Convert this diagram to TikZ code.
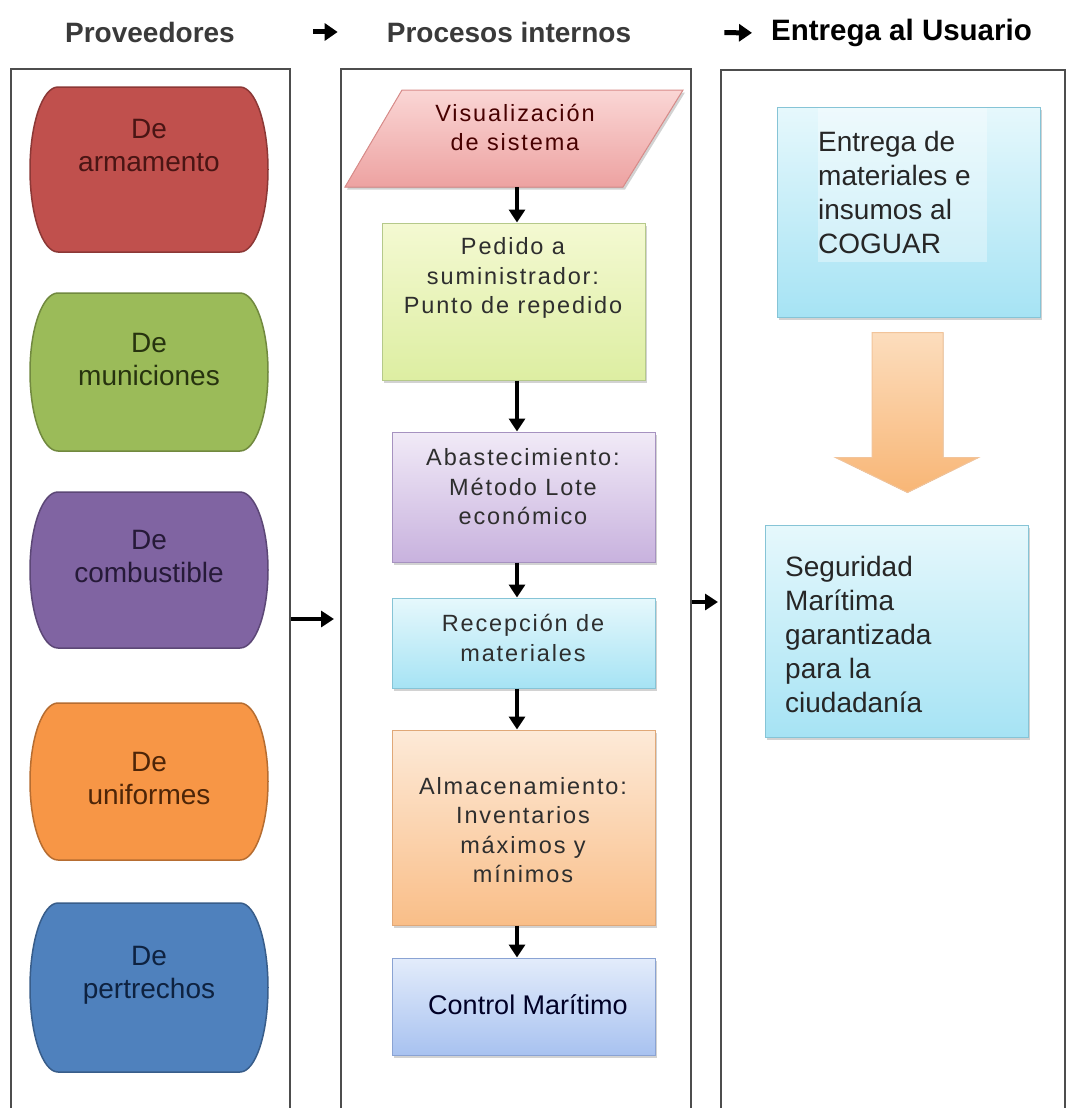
\documentclass[tikz,border=0pt]{standalone}
\usepackage{fontspec}
\setmainfont{Liberation Sans}
\newfontfamily\spacedfont[LetterSpace=8]{Liberation Sans}
\usetikzlibrary{shadows,calc,arrows.meta}

\definecolor{panelgray}{HTML}{4D4D4D}
\definecolor{hdrgray}{HTML}{3A3A3A}
\definecolor{midtxt}{HTML}{2E2E2E}
% supplier shapes
\definecolor{redF}{HTML}{C0504D}\definecolor{redD}{HTML}{8C3836}\definecolor{redT}{HTML}{4A1514}
\definecolor{grnF}{HTML}{9BBB59}\definecolor{grnD}{HTML}{71893F}\definecolor{grnT}{HTML}{27330F}
\definecolor{purF}{HTML}{8064A2}\definecolor{purD}{HTML}{5C4776}\definecolor{purT}{HTML}{261A38}
\definecolor{orgF}{HTML}{F79646}\definecolor{orgD}{HTML}{B66D31}\definecolor{orgT}{HTML}{4D2508}
\definecolor{bluF}{HTML}{4F81BD}\definecolor{bluD}{HTML}{385D8A}\definecolor{bluT}{HTML}{0E2240}
% process boxes
\definecolor{pinkA}{HTML}{FAD6D5}\definecolor{pinkB}{HTML}{EDA2A1}\definecolor{pinkD}{HTML}{D98C8A}
\definecolor{limeA}{HTML}{F4F9D2}\definecolor{limeB}{HTML}{DDEEA2}\definecolor{limeD}{HTML}{B5C98A}
\definecolor{lavA}{HTML}{F1EAF7}\definecolor{lavB}{HTML}{C8B2DE}\definecolor{lavD}{HTML}{A692C0}
\definecolor{cyaA}{HTML}{E6F8FC}\definecolor{cyaB}{HTML}{A6E3F4}\definecolor{cyaD}{HTML}{86C4D6}
\definecolor{pchA}{HTML}{FDEAD8}\definecolor{pchB}{HTML}{F9BE88}\definecolor{pchD}{HTML}{E0A878}
\definecolor{skyA}{HTML}{E3ECFB}\definecolor{skyB}{HTML}{A8C2F0}\definecolor{skyD}{HTML}{8AA3D3}
\definecolor{arrA}{HTML}{FCDDBD}\definecolor{arrB}{HTML}{F8B676}\definecolor{arrD}{HTML}{F2C49A}

% supplier shape: name, top, bottom, fill, border, text colour, text y, text
\newcommand\provshape[8]{%
  \pgfmathsetmacro\pT{#2}%
  \pgfmathsetmacro\pB{#3}%
  \pgfmathsetmacro\pM{(#2+#3)/2}%
  \pgfmathsetmacro\pK{(#3-#2)/2*0.552}%
  \filldraw[provline,fill=#4,draw=#5]
    (58,\pT) -- (240,\pT)
    .. controls (255.5,\pT) and (268,\pM-\pK) .. (268,\pM)
    .. controls (268,\pM+\pK) and (255.5,\pB) .. (240,\pB)
    -- (58,\pB)
    .. controls (42.5,\pB) and (30,\pM+\pK) .. (30,\pM)
    .. controls (30,\pM-\pK) and (42.5,\pT) .. (58,\pT) -- cycle;
  \node[provtext,text=#6] (#1) at (149,#7) {#8};
}

\begin{document}
\begin{tikzpicture}[x=1pt,y=-1pt,
  panel/.style={draw=panelgray,line width=2pt,inner sep=0pt,anchor=north west,minimum height=1080pt},
  header/.style={font=\bfseries\fontsize{28}{32}\selectfont,text=hdrgray,inner sep=0pt},
  harrow/.style={line width=5pt,-{Triangle[length=13pt,width=17pt]}},
  conn/.style={line width=4.5pt,-{Triangle[length=13pt,width=16pt]}},
  provline/.style={line width=1.5pt},
  provtext/.style={align=center,font=\fontsize{28}{33}\selectfont,inner sep=0pt},
  procbox/.style={rectangle,draw=#1,line width=1pt,inner sep=0pt,
    drop shadow={shadow xshift=2pt,shadow yshift=-2.5pt,opacity=0.35}},
  midtext/.style={align=center,text=midtxt,inner sep=0pt,
    font=\spacedfont\fontsize{23.5}{29.5}\selectfont},
  usertext/.style={align=left,text=black!85,inner sep=0pt,anchor=north west,
    font=\fontsize{28}{34}\selectfont},
  bigarrow/.style={draw=arrD,line width=1pt,top color=arrA,bottom color=arrB},
]
\useasboundingbox[fill=white] (0,0) rectangle (1066,1108);

% column headers
\node[header] (h1) at (150,32) {Proveedores};
\node[header] (h2) at (509,32) {Procesos internos};
\node[header,text=black,anchor=west,font=\bfseries\fontsize{29.5}{33}\selectfont] (h3) at (771,33) {Entrega al Usuario};
\draw[harrow,shorten <=78pt,shorten >=49pt] (h1.east) -- (h2.west);
\draw[harrow,shorten <=93pt,shorten >=19pt] (h2.east) -- (h3.west);

% three column frames (open at the bottom edge)
\node[panel,minimum width=279pt] (pA) at (10,68) {};
\node[panel,minimum width=350pt] (pB) at (340,68) {};
\node[panel,minimum width=344pt] (pC) at (720,69) {};

% suppliers
\provshape{arm}{87}{252}{redF}{redD}{redT}{146}{De\\armamento}
\provshape{mun}{293}{451}{grnF}{grnD}{grnT}{360}{De\\municiones}
\provshape{com}{492}{648}{purF}{purD}{purT}{556}{De\\combustible}
\provshape{uni}{703}{860}{orgF}{orgD}{orgT}{778}{De\\uniformes}
\provshape{per}{903}{1072}{bluF}{bluD}{bluT}{975}{De\\pertrechos}

% internal processes
\filldraw[draw=pinkD,line width=1pt,top color=pinkA,bottom color=pinkB,
  drop shadow={shadow xshift=2pt,shadow yshift=-2.5pt,opacity=0.35}]
  (402,90) -- (683,90) -- (623,187) -- (345,187) -- cycle;
\node[minimum width=280pt,minimum height=97pt,inner sep=0pt] (vis) at (514,138.5) {};
\node[midtext,text=black!60!red!70!black] (visT) at (515,127.5) {Visualización\\de sistema};

\node[procbox=limeD,top color=limeA,bottom color=limeB,minimum width=263pt,minimum height=157pt] (ped) at (513.5,301.5) {};
\node[midtext] (pedT) at (513,278) {Pedido a\\suministrador:\\Punto de repedido};

\node[procbox=lavD,top color=lavA,bottom color=lavB,minimum width=263pt,minimum height=130pt] (aba) at (523.5,497) {};
\node[midtext] (abaT) at (523,487) {Abastecimiento:\\Método Lote\\económico};

\node[procbox=cyaD,top color=cyaA,bottom color=cyaB,minimum width=263pt,minimum height=90pt] (rec) at (523.5,643) {};
\node[midtext] (recT) at (523,638) {Recepción de\\materiales};

\node[procbox=pchD,top color=pchA,bottom color=pchB,minimum width=263pt,minimum height=195pt] (alm) at (523.5,827.5) {};
\node[midtext] (almT) at (523,830) {Almacenamiento:\\Inventarios\\máximos y\\mínimos};

\node[procbox=skyD,top color=skyA,bottom color=skyB,minimum width=263pt,minimum height=97pt] (con) at (523.5,1006.5) {};
\node[inner sep=0pt,font=\fontsize{27}{32}\selectfont,text=black!85!blue] (conT) at (528,1005) {Control Marítimo};

\coordinate (ax) at (517,0);
\draw[conn] (vis.south -| ax) -- (ped.north -| ax);
\draw[conn] (ped.south -| ax) -- (aba.north -| ax);
\draw[conn] (aba.south -| ax) -- (rec.north -| ax);
\draw[conn] (rec.south -| ax) -- (alm.north -| ax);
\draw[conn] (alm.south -| ax) -- (con.north -| ax);

% delivery to the user
\node[procbox=cyaD,top color=cyaA,bottom color=cyaB,minimum width=263pt,minimum height=210pt] (ent) at (908.5,212) {};
\fill[white,opacity=0.35] (818,108) rectangle (987,262);
\node[usertext] (entT) at (818,131) {Entrega de\\materiales e\\insumos al\\COGUAR};

\node[procbox=cyaD,top color=cyaA,bottom color=cyaB,minimum width=263pt,minimum height=212pt] (seg) at (896.5,631) {};
\node[usertext] (segT) at (785,556) {Seguridad\\Marítima\\garantizada\\para la\\ciudadanía};

\coordinate (bt) at ($(ent.south)+(-1,15)$);
\coordinate (bb) at ($(bt |- seg.north)+(0,-32)$);
\filldraw[bigarrow]
  ($(bt)+(-35.5,0)$) -- ($(bt)+(35.5,0)$) -- ($(bb)+(35.5,-35)$) -- ($(bb)+(71,-35)$)
  -- (bb) -- ($(bb)+(-72,-35)$) -- ($(bb)+(-35.5,-35)$) -- cycle;

% flow between the columns
\coordinate (y1) at (0,619);
\coordinate (y2) at (0,602);
\draw[conn,shorten >=6pt] (pA.east |- y1) -- (pB.west |- y1);
\draw[conn,shorten >=2pt] (pB.east |- y2) -- (pC.west |- y2);
\end{tikzpicture}
\end{document}
